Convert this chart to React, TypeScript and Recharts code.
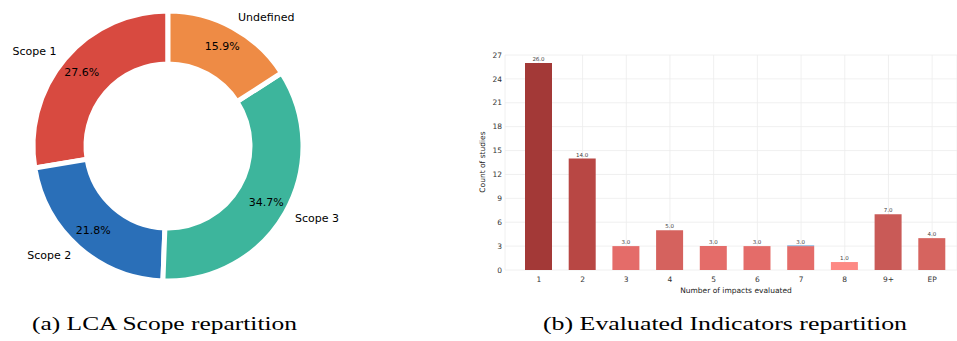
import React from "react";
import { PieChart, Pie, Cell, BarChart, Bar, XAxis, YAxis, CartesianGrid, LabelList } from "recharts";

const scopeNames = ["Scope 1", "Scope 2", "Scope 3", "Undefined"];
const scopeShares = [27.6, 21.8, 34.7, 15.9];
const scopeColors = ["#d84a40", "#2a6fb8", "#3db59c", "#ee8b45"];

const impactCategories = ["1", "2", "3", "4", "5", "6", "7", "8", "9+", "EP"];
const studyCounts = [26, 14, 3, 5, 3, 3, 3, 1, 7, 4];
const extraCounts = [0, 0, 0, 0, 0, 0, 0.08, 0, 0, 0];
const barColors = ["#a33937", "#b84744", "#e46c69", "#d5625e", "#e46c69", "#e46c69", "#e46c69", "#fd8984", "#c95a57", "#d6645f"];
const yTicks = [0, 3, 6, 9, 12, 15, 18, 21, 24, 27];

const pieData = scopeNames.map((name, i) => ({ name, value: scopeShares[i] }));
const barData = impactCategories.map((cat, i) => ({ cat, count: studyCounts[i], extra: extraCounts[i] }));

const RAD = Math.PI / 180;
const FONT = "DejaVu Sans, sans-serif";

const renderPieLabel = (props: any) => {
  const { cx, cy, midAngle, value, name } = props;
  const R = 133;
  const cos = Math.cos(-midAngle * RAD);
  const sin = Math.sin(-midAngle * RAD);
  const px = cx + 0.85 * R * cos;
  const py = cy + 0.85 * R * sin;
  const lx = cx + 1.1 * R * cos;
  const ly = cy + 1.1 * R * sin;
  return (
    <g>
      <text x={px} y={py} textAnchor="middle" dominantBaseline="central" fontSize={11} fontFamily={FONT} fill="#000">
        {`${value.toFixed(1)}%`}
      </text>
      <text x={lx} y={ly} textAnchor={cos < 0 ? "end" : "start"} dominantBaseline="central" fontSize={11} fontFamily={FONT} fill="#000">
        {name}
      </text>
    </g>
  );
};

export default function App() {
  return (
    <div style={{ position: "absolute", left: 0, top: 0, width: 957, height: 341, background: "#fff", overflow: "hidden" }}>
      <div style={{ position: "absolute", left: 0, top: 0 }}>
        <PieChart width={350} height={300} margin={{ top: 0, right: 0, bottom: 0, left: 0 }}>
          <Pie
            data={pieData}
            dataKey="value"
            nameKey="name"
            cx={168}
            cy={146}
            outerRadius={135}
            innerRadius={82}
            startAngle={90}
            endAngle={450}
            stroke="#fff"
            strokeWidth={5}
            label={renderPieLabel}
            labelLine={false}
            isAnimationActive={false}
          >
            {pieData.map((d, i) => (
              <Cell key={d.name} fill={scopeColors[i]} />
            ))}
          </Pie>
        </PieChart>
      </div>
      <div style={{ position: "absolute", left: 460, top: 30 }}>
        <BarChart width={497} height={280} data={barData} margin={{ top: 25, right: 0, left: 0, bottom: 10 }} barSize={27}>
          <CartesianGrid stroke="#ececec" strokeWidth={0.8} />
          <XAxis
            dataKey="cat"
            axisLine={false}
            tickLine={false}
            tickSize={0}
            tickMargin={7}
            height={30}
            padding={{ left: 12, right: 3 }}
            tick={{ fontSize: 7.5, fontFamily: FONT, fill: "#333" }}
          />
          <YAxis
            domain={[0, 27]}
            ticks={yTicks}
            axisLine={false}
            tickLine={false}
            tickSize={0}
            tickMargin={3}
            width={45}
            interval={0}
            tick={{ fontSize: 7.5, fontFamily: FONT, fill: "#333" }}
          />
          <Bar dataKey="count" stackId="a" isAnimationActive={false}>
            {barData.map((d, i) => (
              <Cell key={d.cat} fill={barColors[i]} />
            ))}
            <LabelList
              dataKey="count"
              position="top"
              offset={2}
              formatter={(v: any) => Number(v).toFixed(1)}
              style={{ fontSize: 5.5, fontFamily: FONT, fill: "#444" }}
            />
          </Bar>
          <Bar dataKey="extra" stackId="a" fill="#5b9bd5" isAnimationActive={false} />
        </BarChart>
      </div>
      <svg width={957} height={341} style={{ position: "absolute", left: 0, top: 0, pointerEvents: "none" }}>
        <text x={482} y={162} transform="rotate(-90 482 162)" textAnchor="middle" dominantBaseline="central" fontSize={7.5} fontFamily={FONT} fill="#222">
          Count of studies
        </text>
        <text x={736} y={290.5} textAnchor="middle" dominantBaseline="central" fontSize={7.5} fontFamily={FONT} fill="#222">
          Number of impacts evaluated
        </text>
        <text x={32} y={330} fontSize={19} fontFamily="Liberation Serif, serif" fill="#000" textLength={265} lengthAdjust="spacingAndGlyphs">
          (a) LCA Scope repartition
        </text>
        <text x={543} y={330} fontSize={19} fontFamily="Liberation Serif, serif" fill="#000" textLength={364} lengthAdjust="spacingAndGlyphs">
          (b) Evaluated Indicators repartition
        </text>
      </svg>
    </div>
  );
}
